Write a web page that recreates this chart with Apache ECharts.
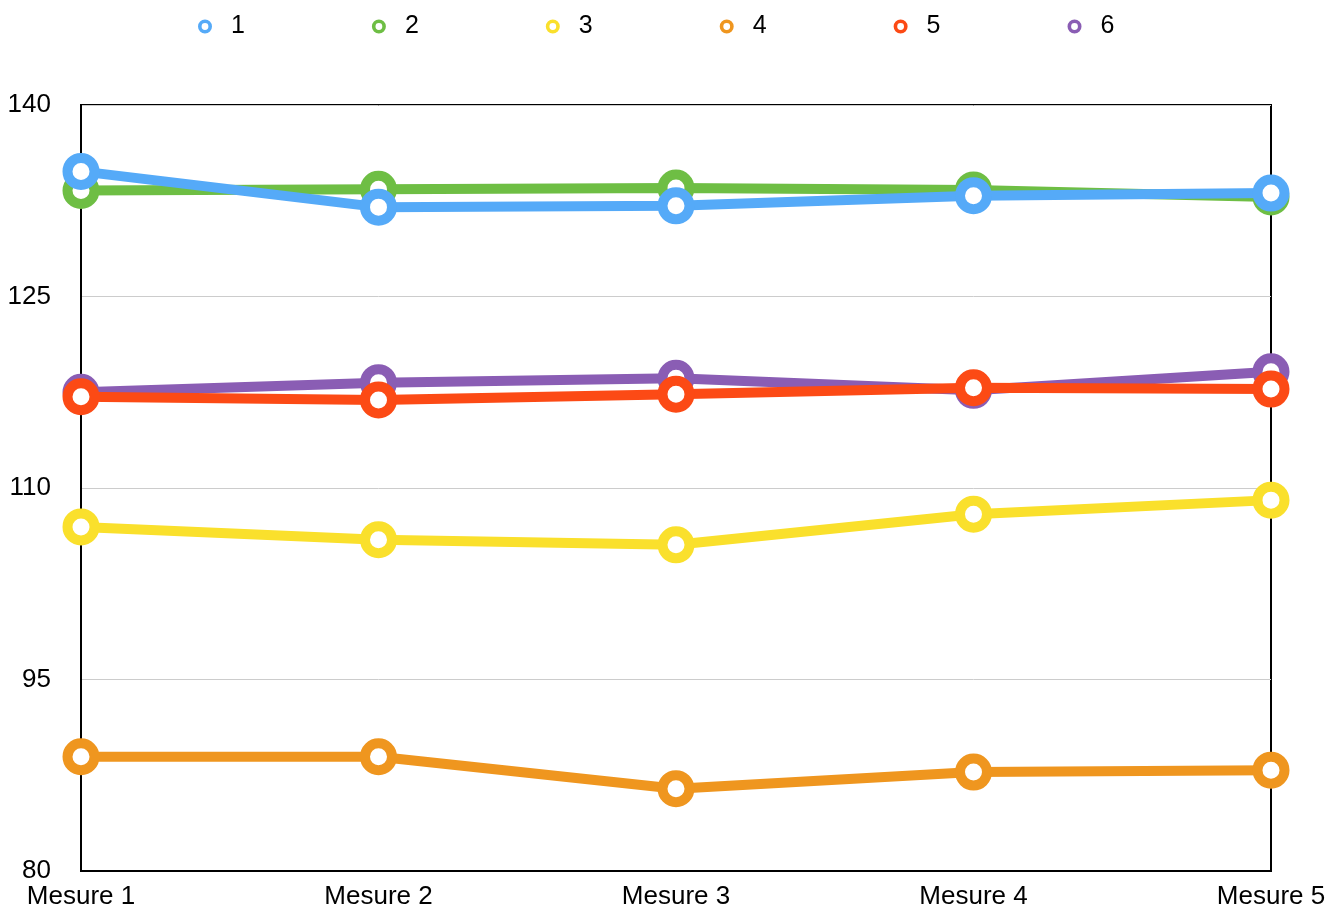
<!DOCTYPE html>
<html>
<head>
<meta charset="utf-8">
<script src="https://cdn.jsdelivr.net/npm/echarts@6/dist/echarts.min.js"></script>
<style>
  html, body { margin: 0; padding: 0; background: #fff; }
  #chart { width: 1344px; height: 913px; }
</style>
</head>
<body>
<div id="chart"></div>
<script>
// Categories on the x axis
const categories = ['Mesure 1', 'Mesure 2', 'Mesure 3', 'Mesure 4', 'Mesure 5'];

// Series names and values
const seriesNames = ['1', '2', '3', '4', '5', '6'];
const s1 = [134.8, 132.0, 132.1, 132.9, 133.1];
const s2 = [133.3, 133.4, 133.5, 133.35, 132.8];
const s3 = [106.95, 105.95, 105.55, 107.95, 109.05];
const s4 = [88.95, 88.95, 86.45, 87.75, 87.9];
const s5 = [117.15, 116.9, 117.35, 117.85, 117.75];
const s6 = [117.5, 118.25, 118.6, 117.65, 119.1];
const seriesValues = [s1, s2, s3, s4, s5, s6];

// Y axis range and tick step
const yMin = 80, yMax = 140, yStep = 15;

const colors = ['#55AAF8', '#6EBE44', '#FAE02C', '#EF961F', '#FC4A15', '#8A5DB4'];
const font = 'Liberation Sans, Arial, Helvetica, sans-serif';

// ring-shaped legend marker (outer and inner circles wound in opposite directions)
const ringIcon = 'path://M7,0A7,7,0,1,1,7,14A7,7,0,1,1,7,0ZM7,3.6A3.4,3.4,0,1,0,7,10.4A3.4,3.4,0,1,0,7,3.6Z';

const chart = echarts.init(document.getElementById('chart'));

const series = seriesNames.map((name, i) => ({
  name: name,
  type: 'line',
  data: seriesValues[i],
  // earlier series sit on top of later ones
  z: 10 - i,
  symbol: 'circle',
  symbolSize: 27,
  showSymbol: true,
  lineStyle: { width: 10, color: colors[i] },
  itemStyle: { color: '#ffffff', borderColor: colors[i], borderWidth: 10 },
  emphasis: { disabled: true },
  animation: false
}));

chart.setOption({
  animation: false,
  color: colors,
  legend: {
    top: 9,
    left: 193,
    itemGap: 127,
    itemWidth: 14,
    itemHeight: 14,
    data: seriesNames.map((n, i) => ({
      name: n,
      icon: ringIcon,
      itemStyle: { color: colors[i], borderWidth: 0 }
    })),
    textStyle: { fontFamily: font, fontSize: 25, color: '#000', padding: [0, 0, 0, 14] }
  },
  grid: {
    left: 81, right: 73, top: 105, bottom: 42,
    show: true,
    borderColor: '#000',
    borderWidth: 2,
    backgroundColor: '#fff'
  },
  xAxis: {
    type: 'category',
    data: categories,
    boundaryGap: false,
    axisLine: { show: true, lineStyle: { color: '#000', width: 2 } },
    axisTick: { show: false },
    splitLine: { show: false },
    axisLabel: { fontFamily: font, fontSize: 26, color: '#000', margin: 13 }
  },
  yAxis: {
    type: 'value',
    min: yMin,
    max: yMax,
    interval: yStep,
    axisLine: { show: true, lineStyle: { color: '#000', width: 2 } },
    axisTick: { show: false },
    splitLine: { show: true, lineStyle: { color: '#cccccc', width: 1 } },
    axisLabel: { fontFamily: font, fontSize: 26, color: '#000', margin: 30 }
  },
  series: series
});
</script>
</body>
</html>
